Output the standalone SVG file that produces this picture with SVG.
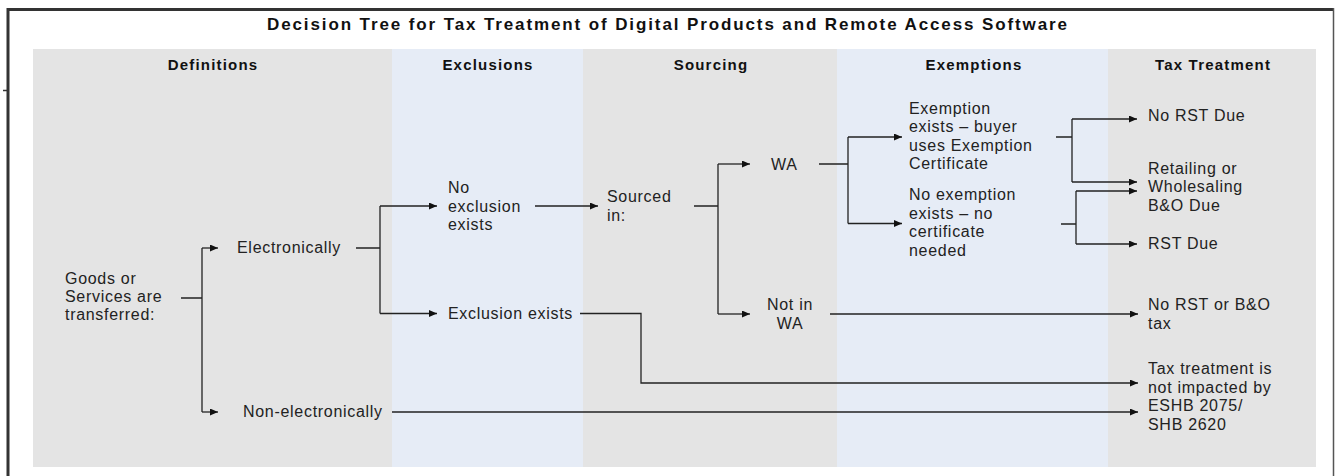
<svg xmlns="http://www.w3.org/2000/svg" width="1336" height="476" viewBox="0 0 1336 476">
<style>
.pg{fill:#e4e4e4}
.pb{fill:#e6ecf6}
.frame{stroke:#333;fill:none}
.ttl{font-family:"Liberation Sans",Arial,sans-serif;font-size:17px;font-weight:bold;fill:#111}
.h{font-family:"Liberation Sans",Arial,sans-serif;font-size:15px;font-weight:bold;fill:#111;letter-spacing:1.2px;text-anchor:middle}
.t{font-family:"Liberation Sans",Arial,sans-serif;font-size:16px;fill:#222;letter-spacing:0.7px}
.c{stroke:#222;stroke-width:1.3;fill:none}
.a{marker-end:url(#arr)}
</style>
<defs>
<marker id="arr" markerUnits="userSpaceOnUse" markerWidth="9" markerHeight="7" refX="8" refY="3.5" orient="auto">
<path d="M0,0 L8,3.5 L0,7 z" fill="#111"/>
</marker>
</defs>
<rect width="1336" height="476" fill="#fff"/>
<g id="frame">
<line class="frame" x1="7" y1="9.5" x2="1334" y2="9.5" stroke-width="3"/>
<line class="frame" x1="8" y1="8" x2="8" y2="476" stroke-width="3"/>
<line class="frame" x1="1333.5" y1="8" x2="1333.5" y2="476" stroke-width="1.5" style="stroke:#555"/>
<line class="frame" x1="3" y1="90.5" x2="7" y2="90.5" stroke-width="1.5"/>
</g>
<g id="panels">
<rect class="pg" x="33" y="49" width="359" height="418"/>
<rect class="pb" x="392" y="49" width="191" height="418"/>
<rect class="pg" x="583" y="49" width="254" height="418"/>
<rect class="pb" x="837" y="49" width="271" height="418"/>
<rect class="pg" x="1108" y="49" width="208" height="418"/>
</g>
<g id="title">
<text class="ttl" x="267" y="30" textLength="800" lengthAdjust="spacing">Decision Tree for Tax Treatment of Digital Products and Remote Access Software</text>
</g>
<g id="headers">
<text class="h" x="213" y="70">Definitions</text>
<text class="h" x="488" y="70">Exclusions</text>
<text class="h" x="711" y="70">Sourcing</text>
<text class="h" x="974" y="70">Exemptions</text>
<text class="h" x="1213" y="70">Tax Treatment</text>
</g>
<g id="connectors">
<path class="c" d="M181,298 H202 M202,248 V412"/>
<path class="c a" d="M202,248 H218"/>
<path class="c a" d="M202,412 H218"/>
<path class="c" d="M356,248 H380 M380,206 V313.5"/>
<path class="c a" d="M380,206 H437"/>
<path class="c a" d="M380,313.5 H437"/>
<path class="c a" d="M535,206 H598"/>
<path class="c" d="M694,206 H718 M718,164 V314"/>
<path class="c a" d="M718,164 H750"/>
<path class="c a" d="M718,314 H750"/>
<path class="c" d="M819,164 H848 M848,137 V223.5"/>
<path class="c a" d="M848,137 H902"/>
<path class="c a" d="M848,223.5 H902"/>
<path class="c" d="M1056,137 H1072 M1072,119 V182"/>
<path class="c a" d="M1072,119 H1137"/>
<path class="c a" d="M1072,182 H1137"/>
<path class="c" d="M1061,224 H1076 M1076,191 V244"/>
<path class="c a" d="M1076,191 H1137"/>
<path class="c a" d="M1076,244 H1137"/>
<path class="c a" d="M830,314 H1138"/>
<path class="c a" d="M580,313.5 H641 V383 H1138"/>
<path class="c a" d="M392,412 H1138"/>
</g>
<g id="n-goods"><text class="t"><tspan x="65" y="284">Goods or</tspan><tspan x="65" y="302">Services are</tspan><tspan x="65" y="320">transferred:</tspan></text></g>
<g id="n-electronically"><text class="t" x="237" y="253">Electronically</text></g>
<g id="n-nonelectronically"><text class="t" x="243" y="417">Non-electronically</text></g>
<g id="n-noexclusion"><text class="t"><tspan x="448" y="193">No</tspan><tspan x="448" y="211.5">exclusion</tspan><tspan x="448" y="230">exists</tspan></text></g>
<g id="n-exclusion"><text class="t" x="448" y="318.5">Exclusion exists</text></g>
<g id="n-sourced"><text class="t"><tspan x="607" y="202">Sourced</tspan><tspan x="607" y="220.5">in:</tspan></text></g>
<g id="n-wa"><text class="t" x="771" y="169.5">WA</text></g>
<g id="n-notwa"><text class="t" text-anchor="middle"><tspan x="790" y="310">Not in</tspan><tspan x="790" y="328.5">WA</tspan></text></g>
<g id="n-exemption"><text class="t"><tspan x="909" y="113.5">Exemption</tspan><tspan x="909" y="132">exists – buyer</tspan><tspan x="909" y="150.5">uses Exemption</tspan><tspan x="909" y="169">Certificate</tspan></text></g>
<g id="n-noexemption"><text class="t"><tspan x="909" y="200">No exemption</tspan><tspan x="909" y="218.5">exists – no</tspan><tspan x="909" y="237">certificate</tspan><tspan x="909" y="255.5">needed</tspan></text></g>
<g id="n-norst"><text class="t" x="1148" y="121">No RST Due</text></g>
<g id="n-bo"><text class="t"><tspan x="1148" y="173.5">Retailing or</tspan><tspan x="1148" y="192">Wholesaling</tspan><tspan x="1148" y="210.5">B&amp;O Due</tspan></text></g>
<g id="n-rst"><text class="t" x="1148" y="249">RST Due</text></g>
<g id="n-notax"><text class="t"><tspan x="1148" y="310">No RST or B&amp;O</tspan><tspan x="1148" y="328.5">tax</tspan></text></g>
<g id="n-notimpacted"><text class="t"><tspan x="1148" y="374">Tax treatment is</tspan><tspan x="1148" y="392.5">not impacted by</tspan><tspan x="1148" y="411">ESHB 2075/</tspan><tspan x="1148" y="429.5">SHB 2620</tspan></text></g>
</svg>
